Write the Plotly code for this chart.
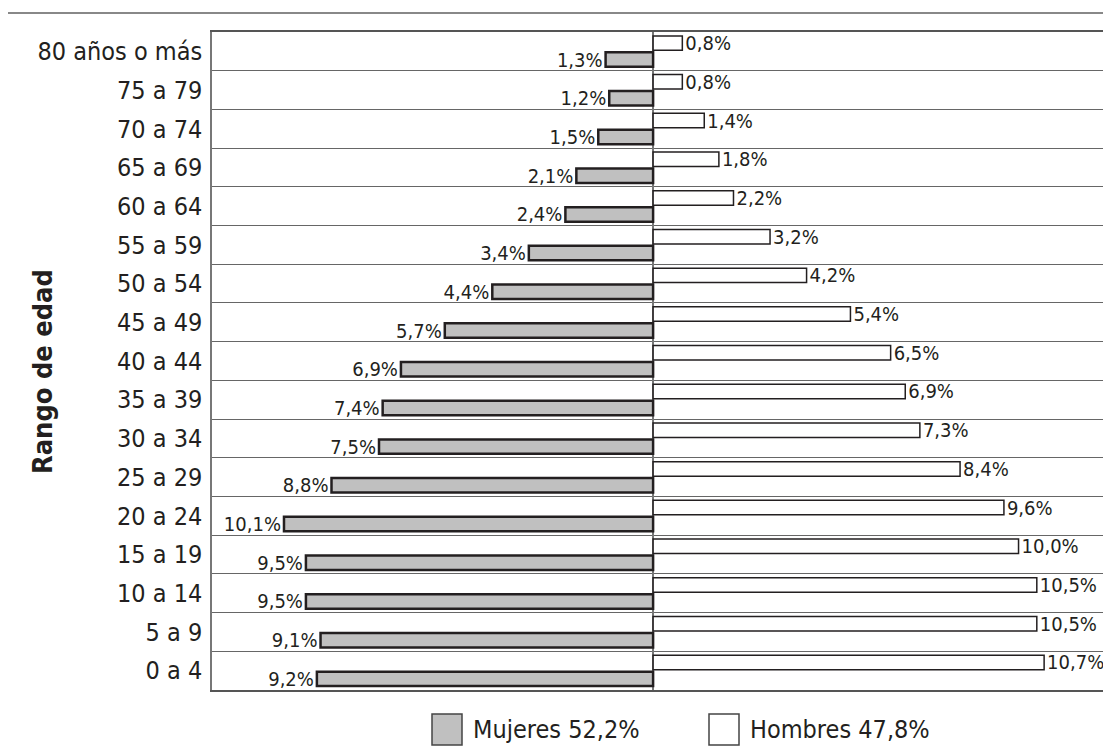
import plotly.graph_objects as go

# ---- data ----
age_groups = ["0 a 4", "5 a 9", "10 a 14", "15 a 19", "20 a 24", "25 a 29", "30 a 34",
              "35 a 39", "40 a 44", "45 a 49", "50 a 54", "55 a 59", "60 a 64",
              "65 a 69", "70 a 74", "75 a 79", "80 años o más"]
mujeres = [9.2, 9.1, 9.5, 9.5, 10.1, 8.8, 7.5, 7.4, 6.9, 5.7, 4.4, 3.4, 2.4, 2.1, 1.5, 1.2, 1.3]
hombres = [10.7, 10.5, 10.5, 10.0, 9.6, 8.4, 7.3, 6.9, 6.5, 5.4, 4.2, 3.2, 2.2, 1.8, 1.4, 0.8, 0.8]
total_mujeres = 52.2
total_hombres = 47.8
axis_title = "Rango de edad"


def fmt(v):
    return f"{v:.1f}".replace(".", ",") + "%"


FONT = "Noto Sans Condensed, Liberation Sans Narrow, DejaVu Sans Condensed, sans-serif"
INK = "#231f20"

OFF = 8  # page body margin
W, H = 1111 - OFF, 748 - OFF
ML, MR, MT, MB = 212 - OFF, 0, 32 - OFF, 748 - 690
PW, PH = W - ML - MR, H - MT - MB


def px_x(p):
    return (p - OFF - ML) / PW


def px_y(p):
    return (H - MB - (p - OFF)) / PH


fig = go.Figure()
fig.add_trace(go.Bar(
    y=age_groups, x=[-v for v in mujeres], orientation="h", name="Mujeres",
    marker=dict(color="#c0c0c0", line=dict(color=INK, width=2.5)),
    text=[fmt(v) for v in mujeres], textposition="outside", cliponaxis=False,
    textfont=dict(family=FONT, size=20, color=INK), showlegend=False,
))
fig.add_trace(go.Bar(
    y=age_groups, x=hombres, orientation="h", name="Hombres",
    marker=dict(color="white", line=dict(color=INK, width=1.5)),
    text=[fmt(v) for v in hombres], textposition="outside", cliponaxis=False,
    textfont=dict(family=FONT, size=20, color=INK), showlegend=False,
))

shapes = []
annotations = []
# top rule
shapes.append(dict(type="line", xref="paper", yref="paper", x0=px_x(8), x1=1.0,
                   y0=px_y(13), y1=px_y(13), line=dict(color="#888", width=2)))
# custom legend
legend_items = [("Mujeres", total_mujeres, "#c0c0c0", 432),
                ("Hombres", total_hombres, "white", 709)]
for name, tot, col, x0 in legend_items:
    shapes.append(dict(type="rect", xref="paper", yref="paper",
                       x0=px_x(x0), x1=px_x(x0 + 30), y0=px_y(714), y1=px_y(745),
                       fillcolor=col, line=dict(color="#444", width=1.5)))
    annotations.append(dict(xref="paper", yref="paper", x=px_x(x0 + 39), y=px_y(729.5),
                            xanchor="left", yanchor="middle", showarrow=False,
                            text=f"{name} {fmt(tot)}",
                            font=dict(family=FONT, size=25, color=INK)))
# axis title
annotations.append(dict(xref="paper", yref="paper", x=px_x(42), y=px_y(372),
                        xanchor="center", yanchor="middle", showarrow=False,
                        text=f"<b>{axis_title}</b>", textangle=-90,
                        font=dict(family=FONT, size=27, color=INK)))

fig.update_layout(
    width=W, height=H, margin=dict(l=ML, r=MR, t=MT, b=MB),
    paper_bgcolor="white", plot_bgcolor="white",
    barmode="group", bargap=0.15, bargroupgap=0.12,
    font=dict(family=FONT, color=INK),
    shapes=shapes, annotations=annotations, showlegend=False,
)
fig.update_traces(constraintext="none")
fig.update_xaxes(range=[-12.07, 12.53], showticklabels=False, showgrid=False,
                 zeroline=True, zerolinecolor="#777", zerolinewidth=1.5,
                 showline=True, linecolor="#555", linewidth=1.5, mirror=True, ticks="")
fig.update_yaxes(type="category", categoryorder="array", categoryarray=age_groups,
                 tickson="boundaries", showgrid=True, gridcolor="#666", gridwidth=1,
                 showline=True, linecolor="#777", linewidth=1.5, ticks="",
                 ticklabelstandoff=3,
                 tickfont=dict(family=FONT, size=25, color=INK))

fig.write_html("out.html")
